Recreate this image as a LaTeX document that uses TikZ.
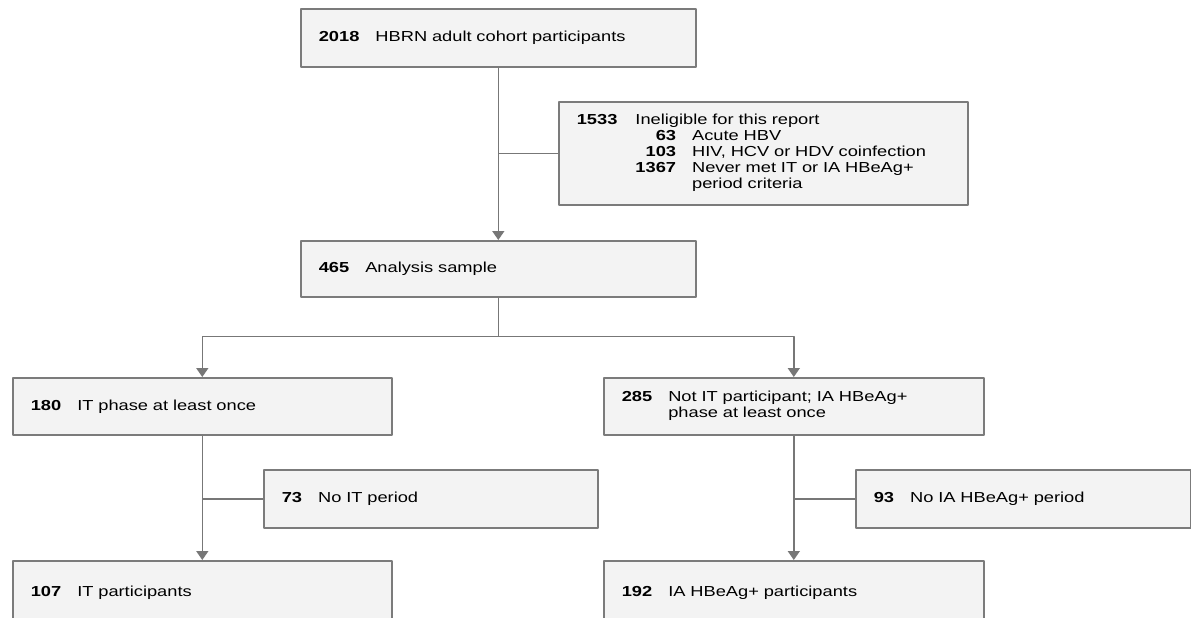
\documentclass[tikz,border=0pt]{standalone}
\usepackage{fontspec}
\setmainfont{Liberation Sans}[FakeStretch=1.26]
\usetikzlibrary{arrows.meta,calc}
\definecolor{boxfill}{HTML}{F3F3F3}
\definecolor{boxline}{HTML}{7B7B7B}
\definecolor{wire}{HTML}{777777}
\tikzset{
  box/.style={draw=boxline, fill=boxfill, line width=1.6pt, anchor=north west,
    inner xsep=18pt, inner ysep=0pt, align=left, text=black,
    font=\fontsize{14.5}{15.8}\selectfont},
  wireline/.style={draw=wire, line width=1.6pt}
}
\newcommand{\nb}[1]{\textbf{#1}\hspace{16pt}}
\begin{document}
\begin{tikzpicture}[x=1pt, y=-1pt, >={Triangle[length=9pt,width=12pt]}, line join=round]
  \fill[white] (0,0) rectangle (1191,618);
  \clip (0,0) rectangle (1191,618);
  % boxes, pixel positions of the top left corners
  \node[box, text width=359pt, minimum height=58pt] (cohort) at (300,8)
    {\nb{2018}HBRN adult cohort participants};
  \node[box, text width=373pt, minimum height=103pt] (excl) at (558,101)
    {\begin{tabular}{@{}l@{\hspace{18pt}}r@{\hspace{16pt}}l@{}}
      \textbf{1533} & \multicolumn{2}{@{}l@{}}{Ineligible for this report}\\
      & \textbf{63} & Acute HBV\\
      & \textbf{103} & HIV, HCV or HDV coinfection\\
      & \textbf{1367} & Never met IT or IA HBeAg+\\
      & & period criteria
     \end{tabular}};
  \node[box, text width=359pt, minimum height=56pt] (sample) at (300,240)
    {\nb{465}Analysis sample};
  \node[box, text width=343pt, minimum height=57pt] (itphase) at (12,377)
    {\nb{180}IT phase at least once};
  \node[box, text width=344pt, minimum height=57pt] (iaphase) at (603,377)
    {\begin{tabular}{@{}l@{\hspace{16pt}}l@{}}
      \textbf{285} & Not IT participant; IA HBeAg+\\
      & phase at least once
     \end{tabular}};
  \node[box, text width=298pt, minimum height=58pt] (noit) at (263,469)
    {\nb{73}No IT period};
  \node[box, text width=299pt, minimum height=58pt] (noia) at (855,469)
    {\nb{93}No IA HBeAg+ period};
  \node[box, text width=343pt, minimum height=64pt] (itpart) at (12,560)
    {\nb{107}IT participants};
  \node[box, text width=344pt, minimum height=64pt] (iapart) at (603,560)
    {\nb{192}IA HBeAg+ participants};
  % connectors
  \coordinate (j1) at (cohort.south |- excl.west);
  \coordinate (fork) at ($(sample.south)+(0,39)$);
  \coordinate (j2) at (itphase.south |- noit.west);
  \coordinate (j3) at (iaphase.south |- noia.west);
  \draw[wireline, ->] (cohort.south) -- (sample.north);
  \draw[wireline] (j1) -- (excl.west);
  \draw[wireline] (sample.south) -- (fork);
  \draw[wireline, ->] (fork) -| (itphase.north);
  \draw[wireline, ->] (fork) -| (iaphase.north);
  \draw[wireline, ->] (itphase.south) -- (itpart.north);
  \draw[wireline] (j2) -- (noit.west);
  \draw[wireline, ->] (iaphase.south) -- (iapart.north);
  \draw[wireline] (j3) -- (noia.west);
\end{tikzpicture}
\end{document}
